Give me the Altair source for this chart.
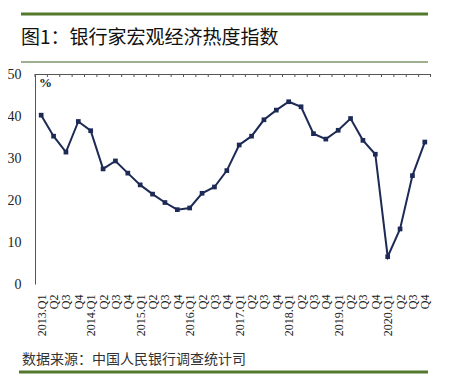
import altair as alt

years = [2013, 2014, 2015, 2016, 2017, 2018, 2019, 2020]
quarter_names = ["Q1", "Q2", "Q3", "Q4"]
categories = [f"{y}.{q}" for y in years for q in quarter_names]

values = [40.2, 35.2, 31.4, 38.7,
          36.5, 27.4, 29.3, 26.4,
          23.6, 21.4, 19.4, 17.7,
          18.1, 21.6, 23.1, 27.0,
          33.1, 35.2, 39.1, 41.4,
          43.4, 42.2, 35.8, 34.5,
          36.6, 39.4, 34.2, 30.9,
          6.5, 13.1, 25.8, 33.8]

y_ticks = [0, 10, 20, 30, 40, 50]

title_text = "图1：银行家宏观经济热度指数"
source_text = "数据来源：中国人民银行调查统计司"
unit_text = "%"

records = [{"quarter": c, "index": v} for c, v in zip(categories, values)]
data = alt.Data(values=records)

W, H = 396, 210
GREEN = "#52792c"
NAVY = "#1d2a55"
SERIF = "Liberation Serif"

# category strings sort alphabetically in chronological order
x_scale = alt.Scale(type="point", padding=0.5)
x_enc = alt.X(
    "quarter:N",
    scale=x_scale,
    axis=alt.Axis(
        orient="bottom",
        domain=False,
        ticks=False,
        labelAngle=270,
        labelAlign="right",
        labelBaseline="middle",
        labelPadding=10,
        labelFont=SERIF,
        labelFontSize=12,
        labelColor="#222222",
        labelOverlap=False,
        labelExpr="indexof(datum.value, 'Q1') >= 0 ? datum.value : slice(datum.value, 5)",
        title=None,
    ),
)

y_enc = alt.Y(
    "index:Q",
    scale=alt.Scale(domain=[0, 50]),
    axis=alt.Axis(
        values=y_ticks,
        ticks=False,
        grid=False,
        domainColor="#555555",
        labelFont=SERIF,
        labelFontSize=14,
        labelColor="#222222",
        labelPadding=14,
        title=None,
    ),
)

base = alt.Chart(data).encode(x=x_enc, y=y_enc)
line = base.mark_line(color=NAVY, strokeWidth=2)
pts = base.mark_point(shape="square", filled=True, color=NAVY, size=22, opacity=1)

# small ticks hanging from the top border, at category boundaries
top_ticks = alt.Chart(data).mark_rule(color="#555555", strokeWidth=1, xOffset=-W / 64).encode(
    x=alt.X("quarter:N", scale=x_scale), y=alt.value(0), y2=alt.value(3))

one = alt.Data(values=[{"a": 1}])

top_border = alt.Chart(one).mark_rule(color="#555555", strokeWidth=1).encode(
    x=alt.value(0), x2=alt.value(W), y=alt.value(0.5))
end_tick = alt.Chart(one).mark_rule(color="#555555", strokeWidth=1).encode(
    x=alt.value(W - 0.5), y=alt.value(0), y2=alt.value(3))
top_rule = alt.Chart(one).mark_rule(color=GREEN, strokeWidth=3).encode(
    x=alt.value(-14), x2=alt.value(393), y=alt.value(-60))
sub_rule = alt.Chart(one).mark_rule(color="#3f6122", strokeWidth=1).encode(
    x=alt.value(-14), x2=alt.value(393), y=alt.value(-12))
bottom_rule = alt.Chart(one).mark_rule(color=GREEN, strokeWidth=3).encode(
    x=alt.value(-16), x2=alt.value(393), y=alt.value(298))

unit = alt.Chart(one).mark_text(
    text=unit_text, align="left", baseline="middle",
    font=SERIF, fontSize=13, fontWeight="bold", color="#222222",
).encode(x=alt.value(4), y=alt.value(9))

title = alt.Chart(one).mark_text(
    text=title_text, align="left", baseline="middle",
    font="Noto Sans CJK SC", fontSize=19, color="#111111",
).encode(x=alt.value(-14), y=alt.value(-36))

source = alt.Chart(one).mark_text(
    text=source_text, align="left", baseline="middle",
    font="Noto Sans CJK SC", fontSize=14, color="#333333",
).encode(x=alt.value(-13), y=alt.value(286))

chart = alt.layer(
    line, pts, top_ticks, top_border, end_tick,
    top_rule, sub_rule, bottom_rule, unit, title, source,
).properties(
    width=W, height=H,
    autosize=alt.AutoSizeParams(type="none"),
    padding={"left": 27, "top": 66, "right": 13, "bottom": 90},
    background="white",
).configure_view(stroke="transparent")

chart.save("out.html", embed_options={"renderer": "svg", "actions": False})
